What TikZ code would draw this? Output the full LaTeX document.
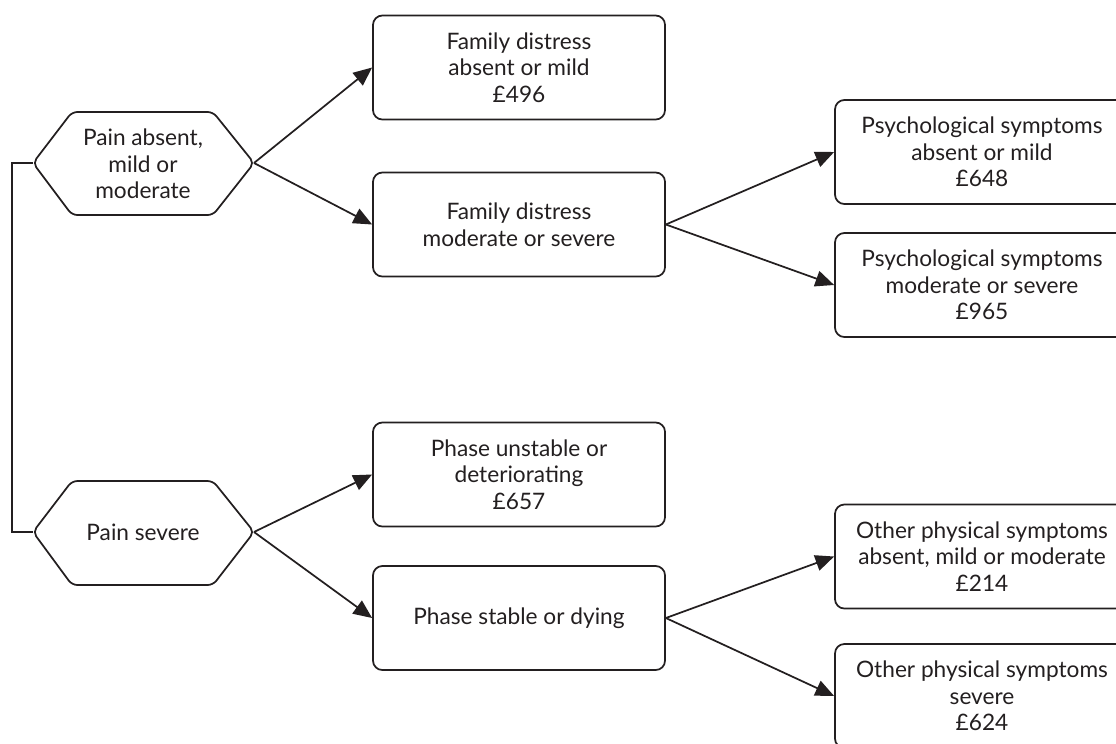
\documentclass[tikz,border=0pt]{standalone}
\usepackage{fontspec}
\setmainfont{Lato}
\usetikzlibrary{arrows.meta}
\definecolor{ink}{HTML}{231F20}
\tikzset{
  box/.style={draw=ink, line width=1.3pt, rounded corners=7pt, minimum width=219pt, minimum height=78pt, align=center, text=ink, inner sep=2pt, font=\fontsize{17}{20}\selectfont},
  rbox/.style={box, minimum width=220.5pt},
  hex/.style={draw=ink, line width=1.3pt, rounded corners=4pt},
  hextext/.style={align=center, text=ink, font=\fontsize{17}{20}\selectfont},
  conn/.style={draw=ink, line width=1.3pt},
  arr/.style={conn, -{Triangle[length=14pt, width=12pt]}}
}
\begin{document}
\begin{tikzpicture}[x=0.75pt, y=-0.75pt]
\clip (0,0) rectangle (1116,743);
% hexagons
\draw[hex] (33,163) -- (72,112) -- (213,112) -- (254,163) -- (213,215) -- (72,215) -- cycle;
\draw[hex] (33,532) -- (72,481) -- (213,481) -- (254,532) -- (213,585) -- (72,585) -- cycle;
\coordinate (hAw) at (33,163);
\coordinate (hAe) at (254,163);
\coordinate (hBw) at (33,532);
\coordinate (hBe) at (254,532);
\coordinate (bend) at (12,0);
\node[hextext] (hA) at (143,164) {Pain absent,\\mild or\\moderate};
\node[hextext] (hB) at (143,532) {Pain severe};
% middle boxes
\node[box] (b1) at (519,67.5) {Family distress\\absent or mild\\£496};
\node[box] (b2) at (519,224.5) {Family distress\\moderate or severe};
\node[box] (b5) at (519,474.5) {Phase unstable or\\deteriorating\\£657};
\node[box] (b6) at (519,618) {Phase stable or dying};
% right boxes
\node[rbox] (b3) at (982,152) {Psychological symptoms\\absent or mild\\£648};
\node[rbox] (b4) at (982,285) {Psychological symptoms\\moderate or severe\\£965};
\node[rbox] (b7) at (982,556.5) {Other physical symptoms\\absent, mild or moderate\\£214};
\node[rbox] (b8) at (982,696) {Other physical symptoms\\severe\\£624};
% bracket
\draw[conn] (hAw) -- (hAw -| bend) -- (hBw -| bend) -- (hBw);
% arrows
\draw[arr] (hAe) -- (b1.west);
\draw[arr] (hAe) -- (b2.west);
\draw[arr] (hBe) -- (b5.west);
\draw[arr] (hBe) -- (b6.west);
\draw[arr] (b2.east) -- (b3.west);
\draw[arr] (b2.east) -- (b4.west);
\draw[arr] (b6.east) -- (b7.west);
\draw[arr] (b6.east) -- (b8.west);
\end{tikzpicture}
\end{document}
